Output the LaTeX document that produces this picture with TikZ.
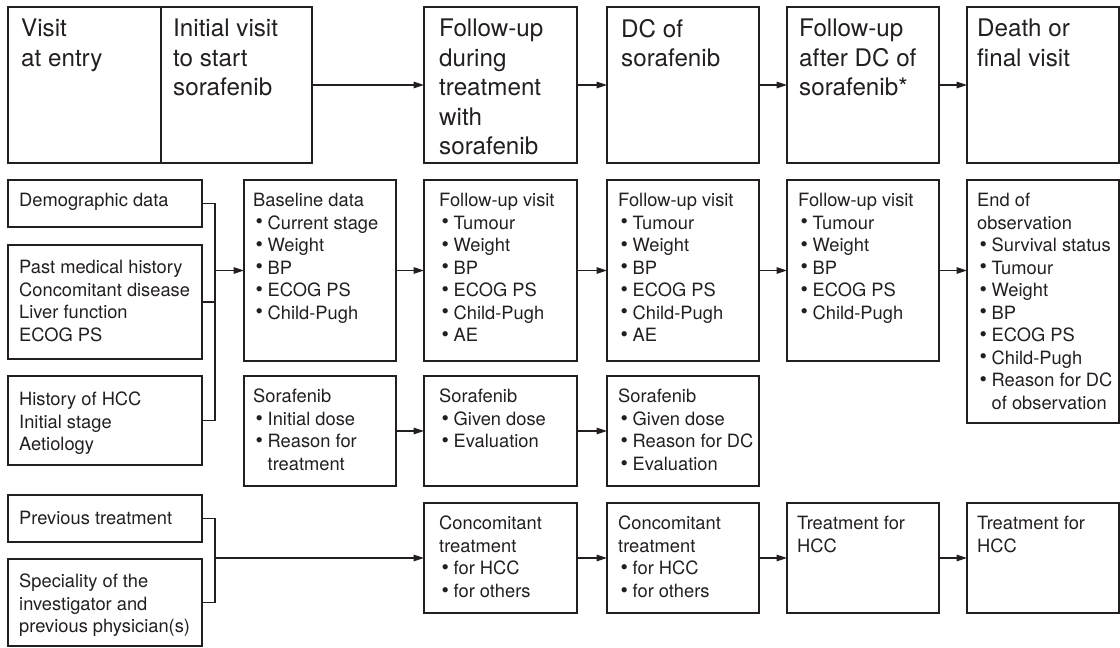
\documentclass[tikz,border=0pt]{standalone}
\usepackage{fontspec}
\setmainfont{TeX Gyre Heros}
\usetikzlibrary{arrows.meta}
\definecolor{ink}{RGB}{35,31,32}
\newcommand\itm{\makebox[14.5pt][l]{\hspace{2.5pt}\raisebox{0.2pt}{\scalebox{1.15}{\textbullet}}}}
\newcommand\cnt{\hspace*{14.5pt}}
\newcommand\mybox[5]{%
  \node[boxs, minimum width={(#4)-(#2)}, minimum height={(#5)-(#3)}] (#1) at ({((#2)+(#4))/2},{((#3)+(#5))/2}) {};}
\newcommand\mytext[5]{%
  \node[#4] (#1-t) at ([shift={(#2,#3)}]#1.north west) {#5};}
\begin{document}
\begin{tikzpicture}[x=1pt,y=-1pt,
  boxs/.style={draw=ink, line width=1.4pt, inner sep=0pt, outer sep=0pt},
  hd/.style={font=\fontsize{24.2}{29.5}\selectfont, text=ink, align=left, inner sep=0pt, anchor=north west},
  bd/.style={font=\fontsize{18.3}{22.5}\selectfont, text=ink, align=left, inner sep=0pt, anchor=north west},
  arr/.style={draw=ink, line width=1.4pt, -{Triangle[length=10.5pt,width=6.5pt]}},
  ln/.style={draw=ink, line width=1.4pt},
]
\fill[white] (0,0) rectangle (1120,648);
\useasboundingbox (0,0) rectangle (1120,648);

% header row
\mybox{v1}{8}{7}{161}{163}
\mybox{v2}{161}{7}{312}{163}
\mybox{v3}{424}{7}{577}{163}
\mybox{v4}{607}{7}{759}{163}
\mybox{v5}{787}{7}{939}{163}
\mybox{v6}{967}{7}{1119}{163}
\mytext{v1}{13}{12}{hd}{Visit\\at entry}
\mytext{v2}{12}{12}{hd}{Initial visit\\to start\\sorafenib}
\mytext{v3}{15}{12}{hd}{Follow-up\\during\\treatment\\with\\sorafenib}
\mytext{v4}{14}{12}{hd}{DC of\\sorafenib}
\mytext{v5}{12}{12}{hd}{Follow-up\\after DC of\\sorafenib*}
\mytext{v6}{10}{12}{hd}{Death or\\final visit}

% row 2
\mybox{demo}{8}{180}{202}{227}
\mybox{past}{8}{245}{202}{359}
\mybox{hist}{8}{376}{202}{465}
\mybox{base}{244}{180}{396}{361}
\mybox{fu1}{424}{180}{577}{361}
\mybox{fu2}{607}{180}{759}{361}
\mybox{fu3}{787}{180}{939}{361}
\mybox{endo}{967}{180}{1119}{423}
\mytext{demo}{11}{13}{bd}{Demographic data}
\mytext{past}{11}{15}{bd}{Past medical history\\Concomitant disease\\Liver function\\ECOG PS}
\mytext{hist}{11}{16}{bd}{History of HCC\\Initial stage\\Aetiology}
\mytext{base}{9}{13}{bd}{Baseline data\\\itm Current stage\\\itm Weight\\\itm BP\\\itm ECOG PS\\\itm Child-Pugh}
\mytext{fu1}{15}{13}{bd}{Follow-up visit\\\itm Tumour\\\itm Weight\\\itm BP\\\itm ECOG PS\\\itm Child-Pugh\\\itm AE}
\mytext{fu2}{11}{13}{bd}{Follow-up visit\\\itm Tumour\\\itm Weight\\\itm BP\\\itm ECOG PS\\\itm Child-Pugh\\\itm AE}
\mytext{fu3}{11}{13}{bd}{Follow-up visit\\\itm Tumour\\\itm Weight\\\itm BP\\\itm ECOG PS\\\itm Child-Pugh}
\mytext{endo}{10}{13}{bd}{End of\\observation\\\itm Survival status\\\itm Tumour\\\itm Weight\\\itm BP\\\itm ECOG PS\\\itm Child-Pugh\\\itm Reason for DC\\\cnt of observation}

% row 3
\mybox{sor1}{244}{376}{396}{486}
\mybox{sor2}{424}{376}{577}{486}
\mybox{sor3}{607}{376}{759}{486}
\mytext{sor1}{9}{13}{bd}{Sorafenib\\\itm Initial dose\\\itm Reason for\\\cnt treatment}
\mytext{sor2}{15}{13}{bd}{Sorafenib\\\itm Given dose\\\itm Evaluation}
\mytext{sor3}{11}{13}{bd}{Sorafenib\\\itm Given dose\\\itm Reason for DC\\\itm Evaluation}

% row 4
\mybox{prev}{8}{495}{202}{542}
\mybox{spec}{8}{559}{202}{646}
\mybox{conc1}{424}{503}{577}{613}
\mybox{conc2}{607}{503}{759}{613}
\mybox{tr1}{787}{503}{939}{613}
\mybox{tr2}{967}{503}{1119}{613}
\mytext{prev}{11}{16}{bd}{Previous treatment}
\mytext{spec}{11}{15}{bd}{Speciality of the\\investigator and\\previous physician(s)}
\mytext{conc1}{15}{13}{bd}{Concomitant\\treatment\\\itm for HCC\\\itm for others}
\mytext{conc2}{11}{13}{bd}{Concomitant\\treatment\\\itm for HCC\\\itm for others}
\mytext{tr1}{10}{13}{bd}{Treatment for\\HCC}
\mytext{tr2}{10}{13}{bd}{Treatment for\\HCC}

% connectors: header
\draw[arr] (v2.east) -- (v3.west);
\draw[arr] (v3.east) -- (v4.west);
\draw[arr] (v4.east) -- (v5.west);
\draw[arr] (v5.east) -- (v6.west);

% row 2
\draw[ln] (demo.east) -- ++(13,0) |- (hist.east);
\draw[ln] (past.east) -- ++(13,0);
\path (base.west) ++(-29,0) coordinate (j1);
\draw[arr] (j1) -- (base.west);
\draw[arr] (base.east) -- (fu1.west);
\draw[arr] (fu1.east) -- (fu2.west);
\draw[arr] (fu2.east) -- (fu3.west);
\draw[arr] (fu3.east) -- (fu3.east -| endo.west);

% row 3
\draw[arr] (sor1.east) -- (sor2.west);
\draw[arr] (sor2.east) -- (sor3.west);

% row 4
\draw[ln] (prev.east) -- ++(13,0) |- (spec.east);
\path (conc1.west) ++(-209,0) coordinate (j2);
\draw[arr] (j2) -- (conc1.west);
\draw[arr] (conc1.east) -- (conc2.west);
\draw[arr] (conc2.east) -- (tr1.west);
\draw[arr] (tr1.east) -- (tr2.west);
\end{tikzpicture}
\end{document}
